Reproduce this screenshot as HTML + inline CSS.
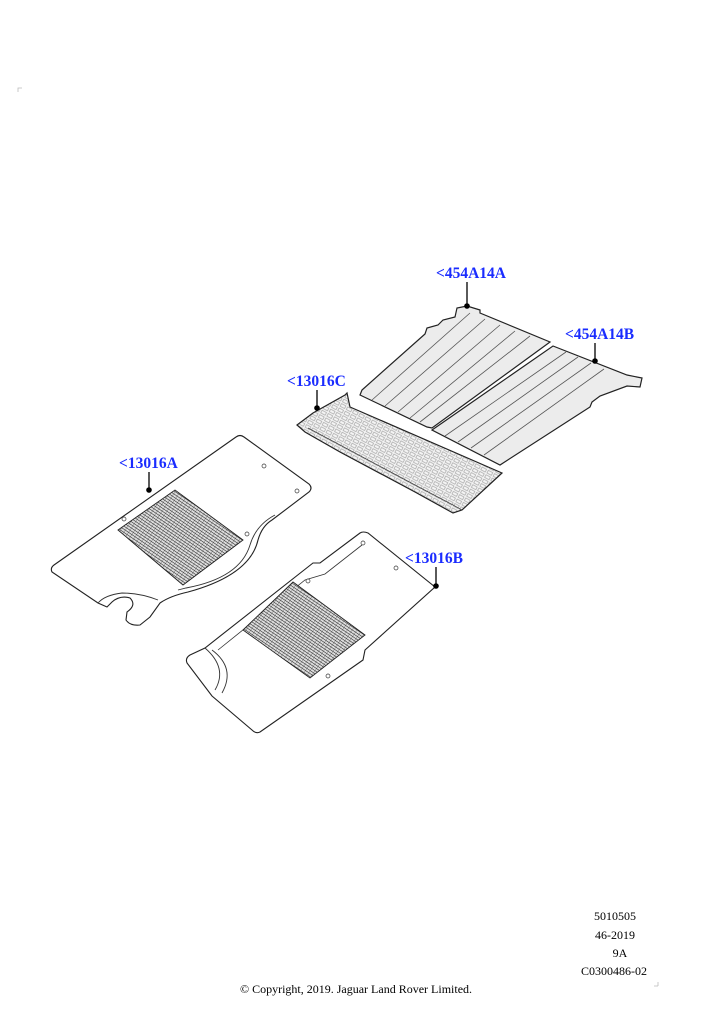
<!DOCTYPE html>
<html><head><meta charset="utf-8"><style>
html,body{margin:0;padding:0;background:#fff;}
svg{display:block;}
.lbl{font-family:"Liberation Serif",serif;font-weight:bold;font-size:15.5px;fill:#1a2cff;}
.ft{font-family:"Liberation Serif",serif;font-size:12px;fill:#000;}
</style></head><body>
<svg width="724" height="1024" viewBox="0 0 724 1024" xmlns="http://www.w3.org/2000/svg">
<defs>
<pattern id="grid" width="4" height="2.6" patternUnits="userSpaceOnUse" patternTransform="rotate(34)">
<rect width="4" height="2.6" fill="#ddd"/>
<line x1="0" y1="0" x2="4" y2="0" stroke="#111" stroke-width="1"/>
<line x1="0" y1="0" x2="0" y2="2.6" stroke="#444" stroke-width="0.6"/>
</pattern>
<pattern id="cgrid" width="7" height="5" patternUnits="userSpaceOnUse" patternTransform="rotate(28)">
<rect width="7" height="5" fill="#f4f4f4"/>
<rect x="1" y="1" width="5" height="3" fill="none" stroke="#999" stroke-width="0.6"/>
</pattern>
</defs>
<path d="M18 92 L18 88 L22 88" fill="none" stroke="#bbb" stroke-width="0.8"/>
<path d="M658 986 L658 982 M658 986 L654 986" fill="none" stroke="#bbb" stroke-width="0.8"/>

<path d="M360 395 L362 390 L425 334 L427 328 L438 325 L443 320 L455 317 L457 308 L467 306 L480 310 L480 313 L550 342 L432 428 L427 427 Z" fill="#ececec" stroke="#222" stroke-width="1.2"/>
<g stroke="#555" stroke-width="0.8">
<line x1="372" y1="400" x2="470" y2="313"/>
<line x1="385" y1="406" x2="485" y2="319"/>
<line x1="398" y1="412" x2="500" y2="325"/>
<line x1="410" y1="418" x2="515" y2="331"/>
<line x1="420" y1="422" x2="530" y2="336"/>
</g>
<path d="M432 430 L553 346 L627 375 L642 378 L640 387 L627 386 L600 396 L592 402 L590 407 L500 465 Z" fill="#ececec" stroke="#222" stroke-width="1.2"/>
<g stroke="#555" stroke-width="0.8">
<line x1="445" y1="436" x2="566" y2="352"/>
<line x1="458" y1="442" x2="578" y2="357"/>
<line x1="471" y1="448" x2="591" y2="363"/>
<line x1="484" y1="455" x2="604" y2="369"/>
</g>
<path d="M297 425 L313 413 L345 395 L347 393 L350 407 L502 473 L462 510 L453 513 L415 492 L340 452 L305 432 Z" fill="url(#cgrid)" stroke="#222" stroke-width="1.2"/>
<path d="M308 428 L340 445 L415 485 L453 505 L462 510" fill="none" stroke="#444" stroke-width="0.8"/>

<path d="M52 572 Q50 568 54 565 L236 437 Q240 434 244 437 L309 484 Q313 488 309 492 L272 520 Q262 526 258 540 Q250 575 188 592 Q170 596 160 603 L150 617 L140 625 Q130 626 126 620 L127 612 Q137 605 130 598 Q120 595 112 602 L107 607 L98 603 Z" fill="#fff" stroke="#222" stroke-width="1.1"/>
<path d="M98 603 Q105 595 122 593 Q140 593 158 600" fill="none" stroke="#333" stroke-width="0.9"/>
<path d="M178 590 L186 588 Q240 578 250 545 Q256 525 275 515" fill="none" stroke="#333" stroke-width="0.9"/>
<polygon points="118,530 175,490 243,540 183,585" fill="url(#grid)" stroke="#222" stroke-width="0.9"/>
<g fill="#fff" stroke="#333" stroke-width="0.7">
<circle cx="264" cy="466" r="2"/><circle cx="297" cy="491" r="2"/><circle cx="124" cy="519" r="2"/><circle cx="247" cy="534" r="2"/>
</g>
<path d="M187 663 Q185 658 190 655 L205 648 L313 563 L320 563 L360 533 Q363 531 368 533 L435 587 L365 650 L363 660 L260 732 Q256 734 252 730 L212 696 Z" fill="#fff" stroke="#222" stroke-width="1.1"/>
<path d="M205 648 Q228 668 215 690 M212 650 Q236 668 222 693" fill="none" stroke="#333" stroke-width="0.9"/>
<path d="M218 650 L305 580 L325 574 L362 545" fill="none" stroke="#333" stroke-width="0.8"/>
<polygon points="243,630 293,582 365,635 310,678" fill="url(#grid)" stroke="#222" stroke-width="0.9"/>
<g fill="#fff" stroke="#333" stroke-width="0.7">
<circle cx="363" cy="543" r="2"/><circle cx="396" cy="568" r="2"/><circle cx="308" cy="581" r="2"/><circle cx="328" cy="676" r="2"/>
</g>

<g stroke="#000" stroke-width="1.3">
<line x1="467" y1="282" x2="467" y2="306"/>
<line x1="595" y1="343" x2="595" y2="361"/>
<line x1="317" y1="390" x2="317" y2="408"/>
<line x1="149" y1="472" x2="149" y2="490"/>
<line x1="436" y1="567" x2="436" y2="586"/>
</g>
<g fill="#000">
<circle cx="467" cy="306" r="2.8"/><circle cx="595" cy="361" r="2.8"/><circle cx="317" cy="408" r="2.8"/><circle cx="149" cy="490" r="2.8"/><circle cx="436" cy="586" r="2.8"/>
</g>
<text class="lbl" x="436" y="278">&lt;454A14A</text>
<text class="lbl" x="565" y="339">&lt;454A14B</text>
<text class="lbl" x="287" y="386">&lt;13016C</text>
<text class="lbl" x="119" y="468">&lt;13016A</text>
<text class="lbl" x="405" y="563">&lt;13016B</text>

<text class="ft" x="615" y="920" text-anchor="middle">5010505</text>
<text class="ft" x="615" y="939" text-anchor="middle">46-2019</text>
<text class="ft" x="620" y="957" text-anchor="middle">9A</text>
<text class="ft" x="614" y="975" text-anchor="middle">C0300486-02</text>
<text class="ft" x="356" y="993" text-anchor="middle">© Copyright, 2019. Jaguar Land Rover Limited.</text>
</svg>
</body></html>
